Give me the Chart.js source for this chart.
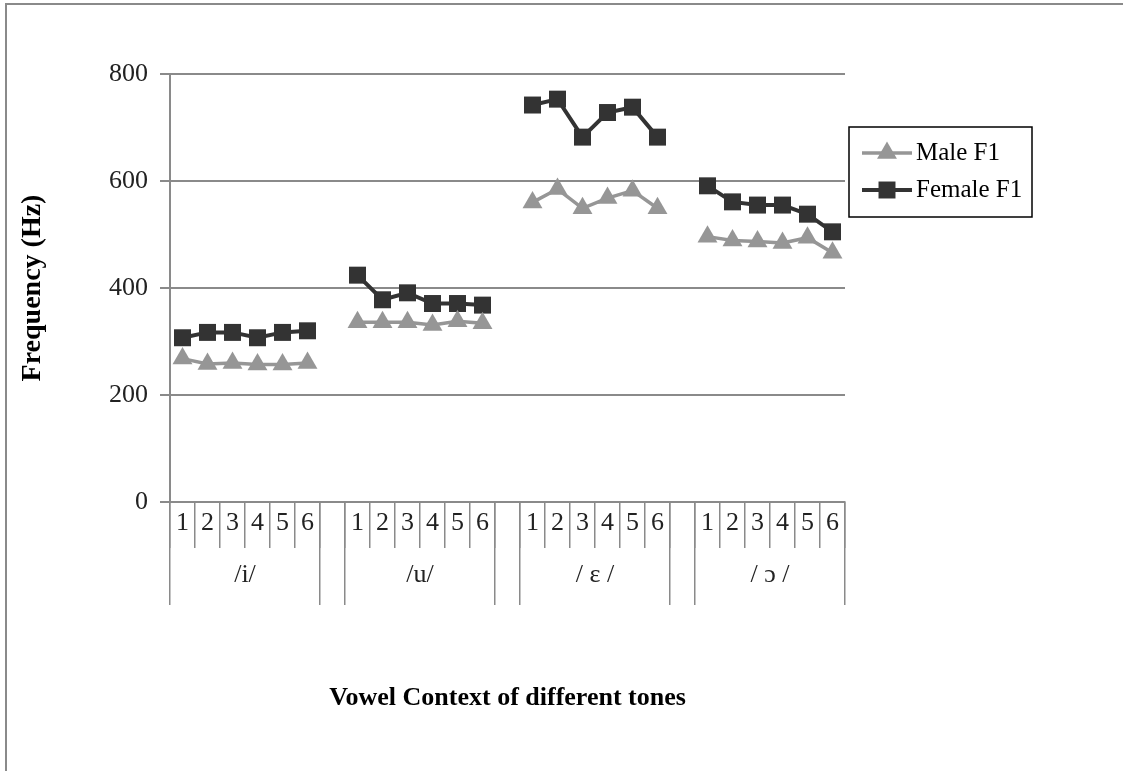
<!DOCTYPE html>
<html>
<head>
<meta charset="utf-8">
<title>F1 by vowel and tone</title>
<script src="https://cdn.jsdelivr.net/npm/chart.js@4"></script>
<style>
  body { margin: 0; background: #fff; }
  #wrap { position: relative; width: 1123px; height: 771px; overflow: hidden; background: #fff; }
  #wrap canvas { position: absolute; left: 0; top: 0; }
  #frame { position: absolute; left: 5px; top: 3px; width: 1300px; height: 900px;
           border-left: 2px solid #8a8a8a; border-top: 2px solid #8a8a8a; pointer-events: none; }
</style>
</head>
<body>
<div id="wrap">
  <canvas id="chart" width="1123" height="771"></canvas>
  <div id="frame"></div>
</div>
<script>
// tones and vowel groups on the category axis
const tones = ['1', '2', '3', '4', '5', '6'];
const vowels = ['/i/', '/u/', '/ ε /', '/ ɔ /'];

// Male F1 (Hz), one array per vowel, tones 1..6
const maleI = [268, 258, 260, 257, 257, 260];
const maleU = [336, 336, 336, 331, 338, 334];
const maleE = [560, 585, 549, 568, 582, 549];
const maleO = [496, 489, 487, 484, 494, 466];

// Female F1 (Hz)
const femaleI = [307, 317, 317, 307, 317, 320];
const femaleU = [424, 378, 391, 371, 371, 368];
const femaleE = [742, 753, 682, 728, 738, 682];
const femaleO = [591, 561, 555, 555, 538, 505];

const yTicks = [0, 200, 400, 600, 800];

// flatten groups with an empty slot between vowels
const maleGroups = [maleI, maleU, maleE, maleO];
const femaleGroups = [femaleI, femaleU, femaleE, femaleO];
const labels = [];
const maleData = [];
const femaleData = [];
const groupTicks = [];
const groupNames = {};

vowels.forEach((v, g) => {
  if (g > 0) {
    labels.push('');
    maleData.push(null);
    femaleData.push(null);
  }
  const start = labels.length;
  tones.forEach((t, i) => {
    labels.push(t);
    maleData.push(maleGroups[g][i]);
    femaleData.push(femaleGroups[g][i]);
  });
  const mid = start + (tones.length - 1) / 2;
  groupTicks.push(start - 0.5, mid, start + tones.length - 0.5);
  groupNames[mid] = v;
});

const FONT = '"Liberation Serif", "Times New Roman", serif';
Chart.defaults.font.family = FONT;
const GRID = '#8a8a8a';

// boxed legend with line + marker swatches, like the original
const boxLegend = {
  id: 'boxLegend',
  afterDraw(chart) {
    const { ctx, chartArea } = chart;
    const x = chartArea.right + 4;
    const y = chartArea.top + 53;
    ctx.save();
    ctx.strokeStyle = '#000';
    ctx.lineWidth = 1.5;
    ctx.strokeRect(x, y, 183, 90);
    chart.data.datasets.forEach((ds, i) => {
      const cy = y + 26 + i * 37;
      ctx.strokeStyle = ds.borderColor;
      ctx.lineWidth = ds.borderWidth;
      ctx.beginPath();
      ctx.moveTo(x + 13, cy);
      ctx.lineTo(x + 63, cy);
      ctx.stroke();
      ctx.fillStyle = ds.pointBackgroundColor;
      Chart.helpers.drawPoint(ctx, {
        pointStyle: ds.pointStyle, radius: ds.pointRadius, rotation: 0, borderWidth: 0
      }, x + 38, cy);
      ctx.fillStyle = '#000';
      ctx.font = '25px ' + FONT;
      ctx.textBaseline = 'middle';
      ctx.textAlign = 'left';
      ctx.fillText(ds.label, x + 67, cy);
    });
    ctx.restore();
  }
};

new Chart(document.getElementById('chart'), {
  type: 'line',
  data: {
    labels: labels,
    datasets: [
      {
        label: 'Male F1',
        data: maleData,
        borderColor: '#969696',
        backgroundColor: '#969696',
        borderWidth: 3.5,
        pointStyle: 'triangle',
        pointRadius: 11.5,
        pointBackgroundColor: '#969696',
        pointBorderColor: '#969696',
        pointBorderWidth: 0,
        tension: 0,
        spanGaps: false
      },
      {
        label: 'Female F1',
        data: femaleData,
        borderColor: '#333333',
        backgroundColor: '#333333',
        borderWidth: 4,
        pointStyle: 'rect',
        pointRadius: 12,
        pointBackgroundColor: '#333333',
        pointBorderColor: '#333333',
        pointBorderWidth: 0,
        tension: 0,
        spanGaps: false
      }
    ]
  },
  options: {
    responsive: false,
    animation: false,
    events: [],
    layout: { padding: { left: 0, top: 74, right: 278, bottom: 40 } },
    plugins: {
      legend: { display: false },
      tooltip: { enabled: false }
    },
    scales: {
      y: {
        min: 0,
        max: 800,
        afterBuildTicks: s => { s.ticks = yTicks.map(v => ({ value: v })); },
        ticks: { color: '#222', font: { size: 26 }, padding: 12 },
        grid: { color: GRID, lineWidth: 2, tickLength: 10 },
        border: { color: GRID, width: 2 },
        title: {
          display: true,
          text: 'Frequency (Hz)',
          color: '#000',
          font: { size: 28, weight: 'bold' },
          padding: { top: 16, bottom: 0 }
        },
        afterFit: s => { s.width = 170; }
      },
      x: {
        type: 'category',
        position: { y: 0 },
        offset: true,
        grid: { offset: true, drawOnChartArea: false, tickLength: 46, color: GRID, lineWidth: 1.5 },
        border: { display: false },
        ticks: { color: '#222', font: { size: 26 }, padding: -40, autoSkip: false, maxRotation: 0 }
      },
      groups: {
        type: 'linear',
        position: 'bottom',
        min: -0.5,
        max: labels.length - 0.5,
        afterBuildTicks: s => { s.ticks = groupTicks.map(v => ({ value: v })); },
        grid: {
          drawOnChartArea: false,
          tickLength: 103,
          lineWidth: 1.5,
          color: c => (c.tick && groupNames[c.tick.value] !== undefined) ? 'rgba(0,0,0,0)' : GRID
        },
        border: { color: GRID, width: 2 },
        ticks: {
          autoSkip: false,
          maxRotation: 0,
          padding: -45,
          color: '#222',
          font: { size: 26 },
          callback: v => groupNames[v] || ''
        },
        title: {
          display: true,
          text: 'Vowel Context of different tones',
          color: '#000',
          font: { size: 26, weight: 'bold' },
          padding: { top: 0, bottom: 17 }
        },
        afterFit: s => { s.height = 229; }
      }
    }
  },
  plugins: [boxLegend]
});
</script>
</body>
</html>
